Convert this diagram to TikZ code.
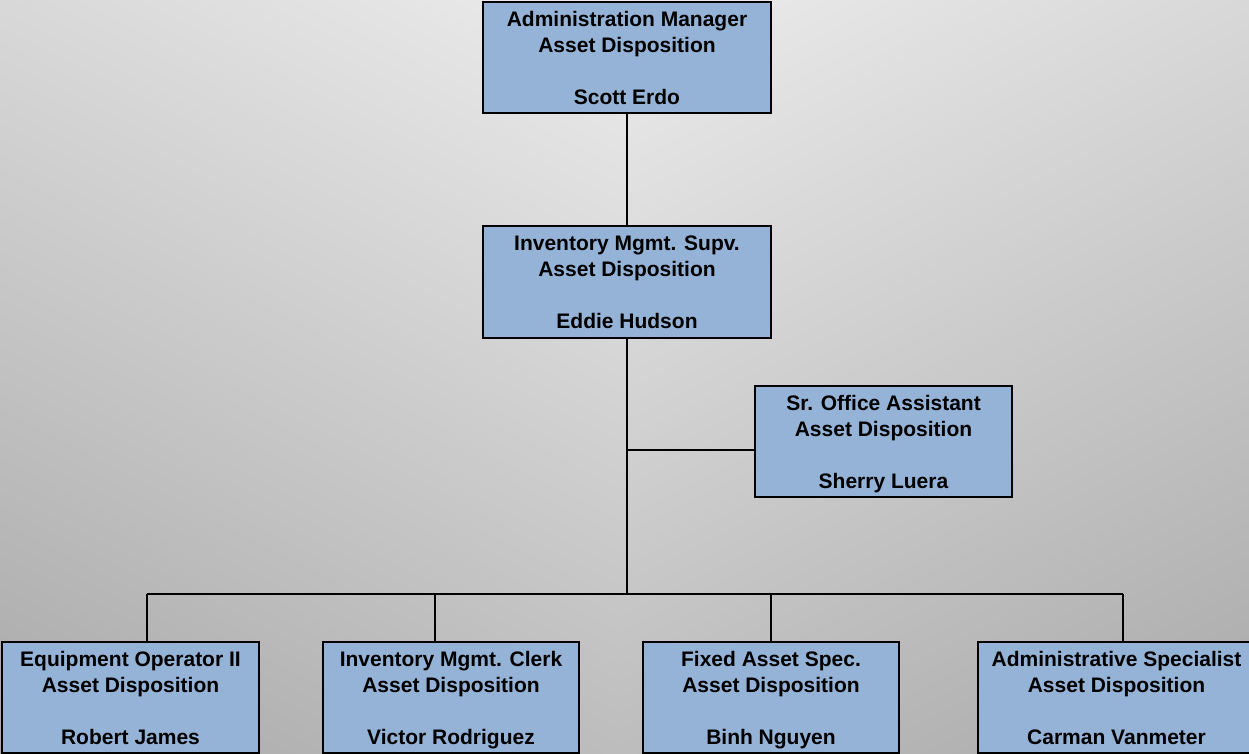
\documentclass[tikz,border=0pt]{standalone}
\usepackage{fontspec}
\usetikzlibrary{shadings}
\setmainfont{Liberation Sans}
\definecolor{boxfill}{HTML}{95B3D7}
\definecolor{bgTop}{HTML}{ECECEC}
\definecolor{bgTopSide}{HTML}{D8D8D8}
\definecolor{bgBot}{HTML}{BDBDBD}
\definecolor{bgBotSide}{HTML}{A9A9A9}
\newcommand{\firstln}{\rule{0pt}{22.8pt}}
\begin{document}
\begin{tikzpicture}[x=1pt,y=-1pt,
  orgbox/.style={draw=black, line width=2.4pt, fill=boxfill, rectangle, align=center,
    inner sep=0pt, minimum height=111pt, font=\bfseries\fontsize{21}{26}\selectfont},
  conn/.style={draw=black, line width=2.1pt}]
\useasboundingbox (0,0) rectangle (1249,753);
\clip (0,0) rectangle (1249,753);
% background
\shade[upper left=bgTopSide, upper right=bgTop, lower left=bgBotSide, lower right=bgBot]
  (0,0) rectangle (621,753);
\shade[upper left=bgTop, upper right=bgTopSide, lower left=bgBot, lower right=bgBotSide]
  (620,0) rectangle (1249,753);
% nodes
\node[orgbox, minimum width=288pt] (top) at (627,57.5)
  {\firstln Administration Manager\\Asset Disposition\\[26pt]Scott Erdo\strut};
\node[orgbox, minimum width=288pt, minimum height=112pt] (mid) at (627,282)
  {\firstln Inventory Mgmt. Supv.\\Asset Disposition\\[26pt]Eddie Hudson\strut};
\node[orgbox, minimum width=257pt] (sr) at (883.5,441.5)
  {\firstln Sr. Office Assistant\\Asset Disposition\\[26pt]Sherry Luera\strut};
\node[orgbox, minimum width=257pt] (b1) at (130.5,697.5)
  {\firstln Equipment Operator II\\Asset Disposition\\[26pt]Robert James\strut};
\node[orgbox, minimum width=256pt] (b2) at (451,697.5)
  {\firstln Inventory Mgmt. Clerk\\Asset Disposition\\[26pt]Victor Rodriguez\strut};
\node[orgbox, minimum width=256pt] (b3) at (771,697.5)
  {\firstln Fixed Asset Spec.\\Asset Disposition\\[26pt]Binh Nguyen\strut};
\node[orgbox, minimum width=277pt] (b4) at (1116.5,697.5)
  {\firstln Administrative Specialist\\Asset Disposition\\[26pt]Carman Vanmeter\strut};
% junctions
\coordinate (j1) at (627,450);
\coordinate (bus) at (627,594);
\coordinate (d1) at (147,594);
\coordinate (d2) at (435,594);
\coordinate (d3) at (771,594);
\coordinate (d4) at (1123,594);
% connectors
\draw[conn] (top.south) -- (mid.north);
\draw[conn] (mid.south) -- (bus);
\draw[conn] (j1) -- (j1 -| sr.west);
\draw[conn] (d1) -- (d4);
\draw[conn] (d1) -- (d1 |- b1.north);
\draw[conn] (d2) -- (d2 |- b2.north);
\draw[conn] (d3) -- (d3 |- b3.north);
\draw[conn] (d4) -- (d4 |- b4.north);
\end{tikzpicture}
\end{document}
